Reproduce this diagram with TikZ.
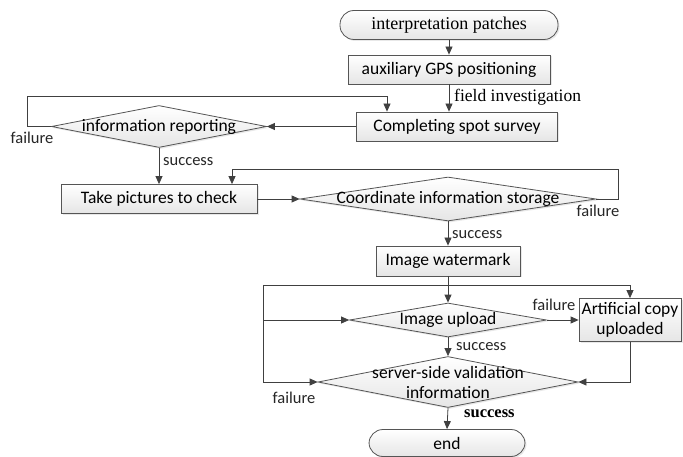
\documentclass[tikz,border=0pt]{standalone}
\usepackage{fontspec}
\setmainfont{Carlito}
\newfontfamily\serifff{Liberation Serif}
\usetikzlibrary{arrows.meta,shapes.geometric,shadows}
\definecolor{linec}{HTML}{404040}
\definecolor{boxc}{HTML}{555555}
\newcommand{\boxfont}{\fontsize{17.5}{19}\selectfont}
\newcommand{\lblfont}{\fontsize{16.5}{18}\selectfont}
\tikzset{
  base/.style={draw=boxc, line width=0.8pt, top color=white, bottom color=black!10,
    drop shadow={opacity=0.18, shadow xshift=1.5pt, shadow yshift=-1.5pt},
    font=\boxfont, inner sep=0pt},
  procbox/.style={base, rectangle},
  termbox/.style={base, rectangle, rounded corners=14pt, font=\serifff\fontsize{18}{20}\selectfont},
  decide/.style={base, diamond, aspect=1},
  dtext/.style={font=\boxfont, align=center, inner sep=0pt},
  arr/.style={draw=linec, line width=0.8pt, -{Triangle[length=8pt,width=7pt]}},
  ln/.style={draw=linec, line width=0.8pt},
  lbl/.style={font=\lblfont, inner sep=0pt, text=black!85}
}
\begin{document}
\begin{tikzpicture}[x=1pt,y=-1pt]
\useasboundingbox[fill=white] (0,0) rectangle (683,457);
% nodes
\node[termbox, minimum width=218pt, minimum height=29pt] (start) at (449,25) {interpretation patches};
\node[procbox, minimum width=202pt, minimum height=29pt] (gps) at (449,69.5) {auxiliary GPS positioning};
\node[procbox, minimum width=201pt, minimum height=29pt] (survey) at (457,126.5) {Completing spot survey};
\node[decide, minimum width=215pt, minimum height=42pt, label={[dtext]center:information reporting}] (report) at (159,126.5) {};
\node[procbox, minimum width=196pt, minimum height=29pt] (take) at (159,199) {Take pictures to check};
\node[decide, minimum width=296pt, minimum height=44pt, label={[dtext]center:Coordinate information storage}] (coord) at (448,199) {};
\node[procbox, minimum width=144pt, minimum height=30pt] (mark) at (448,261) {Image watermark};
\node[decide, minimum width=197pt, minimum height=34pt, label={[dtext]center:Image upload}] (upload) at (448,320) {};
\node[procbox, minimum width=102pt, minimum height=43pt, align=center] (copy) at (630,320) {Artificial copy\\[1pt]uploaded};
\node[decide, minimum width=260pt, minimum height=51pt, label={[dtext]center:server-side validation\\[1pt]information}] (server) at (448,382) {};
\node[termbox, minimum width=156pt, minimum height=27pt, font=\boxfont] (end) at (447,443) {end};
% helper coordinates
\coordinate (tl) at (263,285);
\coordinate (bl) at (263,382);
% connectors
\draw[arr] (start) -- (gps);
\draw[arr] (gps.south) -- (gps.south |- survey.north);
\node[anchor=west, inner sep=0pt, font=\serifff\fontsize{17.5}{19}\selectfont] (fi) at (454,97) {field investigation};
\draw[arr] (survey.west) -- (report.east);
\draw[arr] (report.west) -- ++(-24,0) |- ([xshift=-70pt,yshift=15pt]survey.north) -- ([xshift=-70pt]survey.north);
\node[lbl] (f1) at (32,138) {failure};
\draw[arr] (report.south) -- (take.north);
\node[lbl, anchor=west] (s1) at (163,162) {success};
\draw[arr] (take.east) -- (coord.west);
\draw[arr] (coord.east) -- ++(22,0) |- ([xshift=73pt,yshift=15pt]take.north) -- ([xshift=73pt]take.north);
\node[lbl] (f2) at (598,211) {failure};
\draw[arr] (coord.south) -- (mark.north);
\node[lbl, anchor=west] (s2) at (452,235) {success};
\draw[arr] (mark.south) -- (upload.north);
\draw[arr] (tl) -| (copy.north);
\draw[ln] (tl) -- (bl);
\draw[arr] (tl |- upload.west) -- (upload.west);
\draw[arr] (bl) -- (server.west);
\draw[arr] (upload.east) -- (copy.west);
\node[lbl] (f3) at (554,305) {failure};
\draw[arr] (upload.south) -- (server.north);
\node[lbl, anchor=west] (s3) at (456,347) {success};
\draw[arr] (copy.south) |- (server.east);
\node[lbl] (f4) at (294,398) {failure};
\draw[arr] (server.south) -- (end.north);
\node[anchor=west, inner sep=0pt, font=\serifff\bfseries\fontsize{16.5}{18}\selectfont] (s4) at (464,414) {success};
\end{tikzpicture}
\end{document}
